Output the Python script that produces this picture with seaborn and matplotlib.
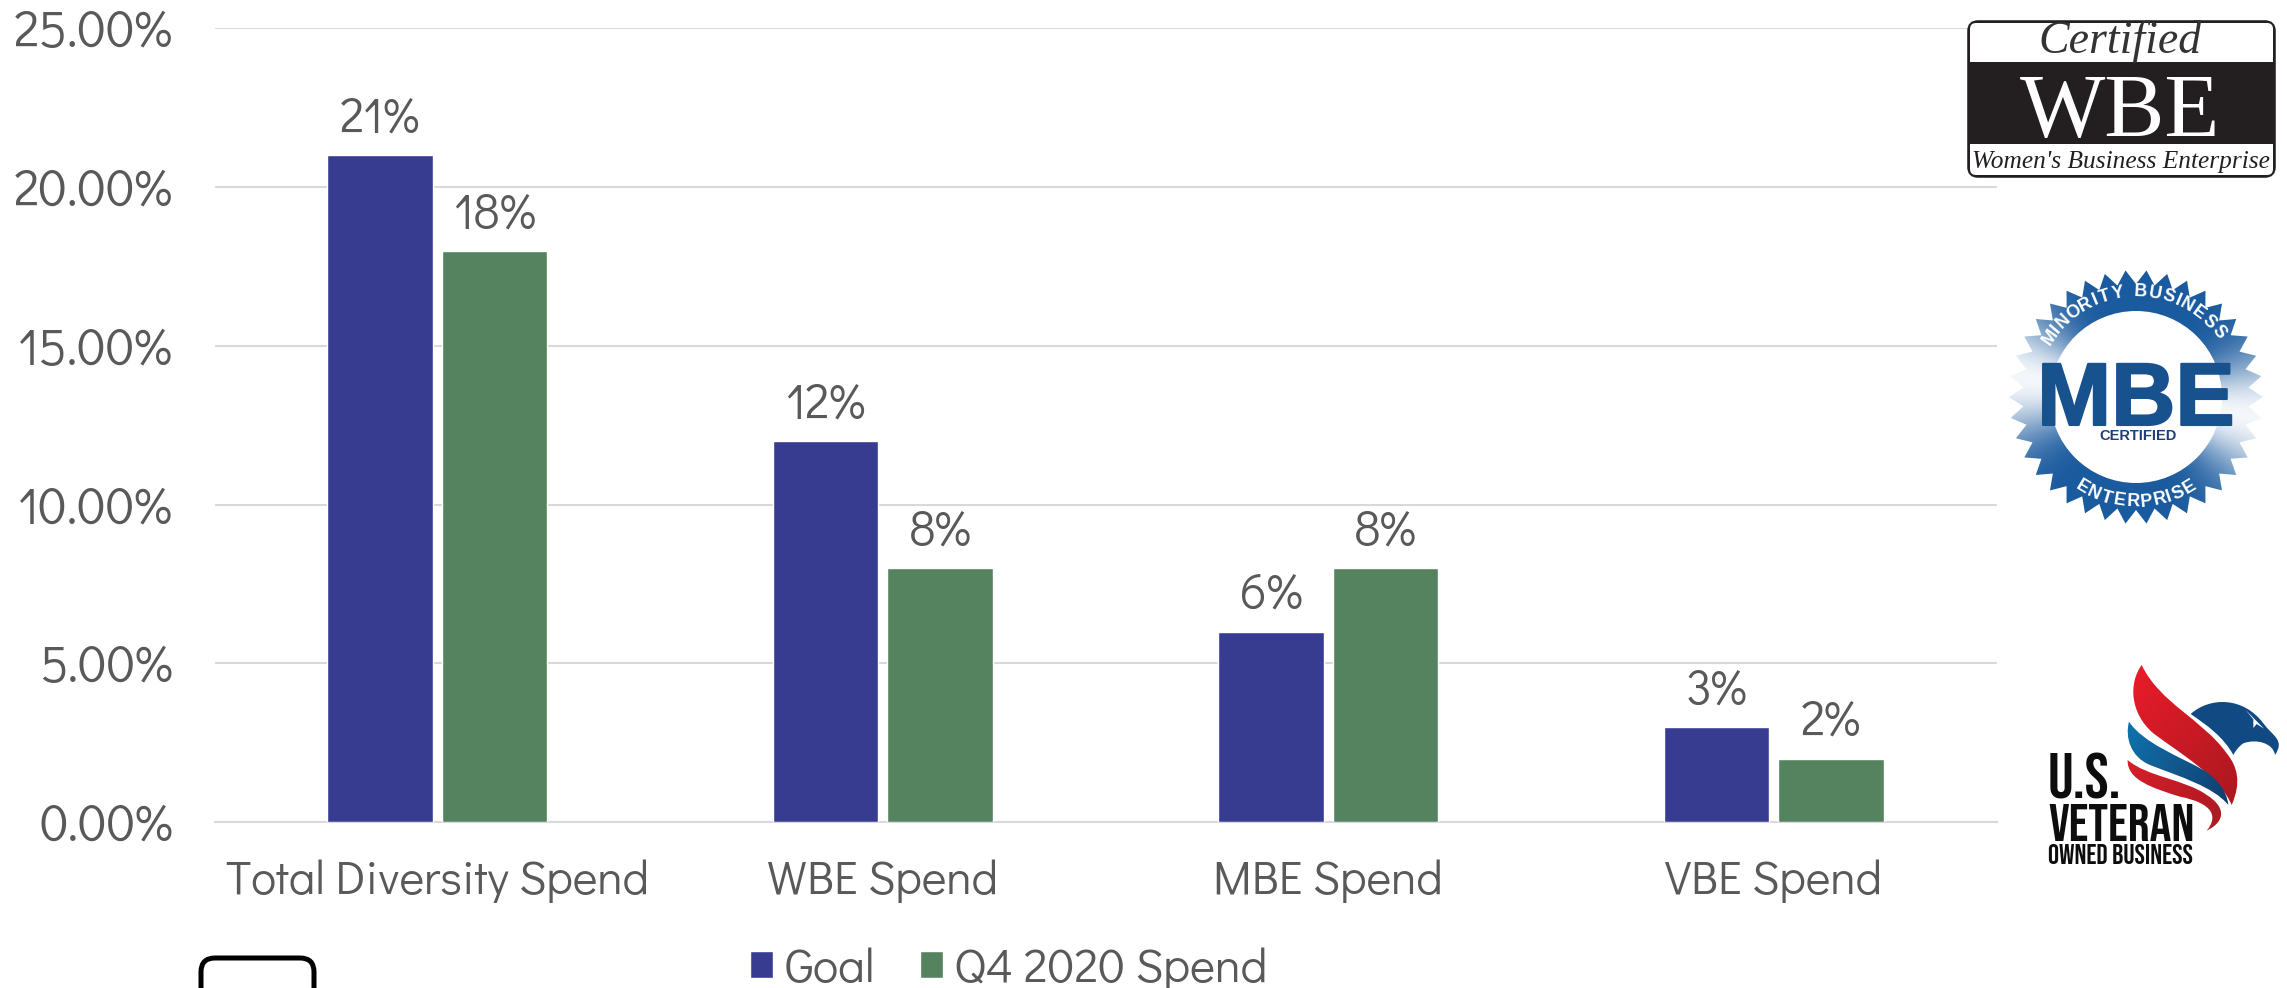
#!/usr/bin/env python3
import numpy as np
import pandas as pd
import matplotlib
matplotlib.use('Agg')
import matplotlib.pyplot as plt
import matplotlib.patheffects as pe
from matplotlib.patches import FancyBboxPatch, Rectangle, Circle, PathPatch, Polygon
from matplotlib.path import Path
import seaborn as sns

categories = ['Total Diversity Spend', 'WBE Spend', 'MBE Spend', 'VBE Spend']
goal = [21, 12, 6, 3]
q4_spend = [18, 8, 8, 2]
series_names = ['Goal', 'Q4 2020 Spend']
y_ticks = [0, 5, 10, 15, 20, 25]

GREY = '#595959'
W, H = 2287, 988

sns.set_theme(style='white')
plt.rcParams['font.family'] = ['Didact Gothic', 'Lato', 'DejaVu Sans']

df = pd.DataFrame({
    'category': categories * 2,
    'series': [series_names[0]] * 4 + [series_names[1]] * 4,
    'value': goal + q4_spend,
})

fig = plt.figure(figsize=(W / 100, H / 100), dpi=100, facecolor='white')
ax = fig.add_axes([214.5 / W, 1 - 822 / H, (1996.5 - 214.5) / W, (822 - 28.5) / H])
sns.barplot(data=df, x='category', y='value', hue='series', order=categories,
            palette=['#383C91', '#56835F'], width=0.515, gap=0.08,
            saturation=1, errorbar=None, ax=ax, zorder=3)

ax.set_xlim(-0.5, 3.5)
ax.set_ylim(0, 25)
ax.set_yticks(y_ticks)
ax.set_yticklabels([f'{v:.2f}%' for v in y_ticks])
ax.set_xlabel('')
ax.set_ylabel('')
ax.grid(axis='y', color='#D9D9D9', lw=1.5, zorder=0)
ax.set_axisbelow(True)
sns.despine(ax=ax, left=True, top=True, right=True)
ax.spines['bottom'].set_color('#D9D9D9')
ax.spines['bottom'].set_linewidth(1.5)
ax.tick_params(axis='y', length=0, pad=30, labelsize=36.7, labelcolor=GREY)
ax.tick_params(axis='x', length=0, pad=27, labelsize=33.8, labelcolor=GREY)

for bars in ax.containers:
    ax.bar_label(bars, fmt='%g%%', padding=9, fontsize=35, color=GREY)

handles, labels = ax.get_legend_handles_labels()
ax.legend_.remove()
fig.legend(handles, labels, loc='center', bbox_to_anchor=(1009 / W, 1 - 969 / H),
           ncol=2, frameon=False, fontsize=34.3, labelcolor=GREY, handlelength=0.47,
           handleheight=0.5, handletextpad=0.25, columnspacing=0.95,
           borderpad=0, borderaxespad=0)

# overlay in pixel coordinates for the logos and the clipped box
ov = fig.add_axes([0, 0, 1, 1], zorder=5)
ov.set_xlim(0, W)
ov.set_ylim(H, 0)
ov.axis('off')
ov.patch.set_alpha(0)


def gradient_fill(patch, extent, c0, c1, angle=0):
    # linear gradient clipped to a patch
    ov.add_patch(patch)
    xx, yy = np.meshgrid(np.linspace(0, 1, 200), np.linspace(0, 1, 200))
    t = xx * np.cos(np.radians(angle)) + yy * np.sin(np.radians(angle))
    t = (t - t.min()) / (t.max() - t.min())
    c0 = np.array(matplotlib.colors.to_rgb(c0))
    c1 = np.array(matplotlib.colors.to_rgb(c1))
    img = c0 + (c1 - c0) * t[..., None]
    im = ov.imshow(img, extent=extent, aspect='auto', zorder=patch.get_zorder())
    im.set_clip_path(patch)
    ov.set_xlim(0, W)
    ov.set_ylim(H, 0)


# WBE logo
ov.add_patch(FancyBboxPatch((1970, 23), 303, 152, boxstyle='round,pad=0,rounding_size=8',
                            fc='#231F20', ec='#231F20', lw=4))
ov.add_patch(FancyBboxPatch((1970, 23), 303, 39, boxstyle='round,pad=0,rounding_size=6',
                            fc='white', ec='none'))
ov.add_patch(Rectangle((1970, 40), 303, 22, fc='white', ec='none'))
ov.add_patch(Rectangle((1970, 144), 303, 15, fc='white', ec='none'))
ov.add_patch(FancyBboxPatch((1970, 148), 303, 27, boxstyle='round,pad=0,rounding_size=6',
                            fc='white', ec='none'))
ov.text(2120, 53, 'Certified', family='Liberation Serif', style='italic', fontsize=33,
        color='#333333', ha='center', va='baseline')
ov.text(2120, 137, 'WBE', family='Liberation Serif', fontsize=65, color='white',
        ha='center', va='baseline')
ov.text(2121, 168, "Women's Business Enterprise", family='Liberation Serif', style='italic',
        fontsize=18.3, color='#231F20', ha='center', va='baseline')

# MBE logo
cx, cy = 2136, 397
n_teeth = 38
theta = np.linspace(0, 2 * np.pi, n_teeth * 2, endpoint=False)
radius = np.where(np.arange(n_teeth * 2) % 2 == 0, 127, 113)
star = Polygon(np.c_[cx + radius * np.cos(theta), cy + radius * np.sin(theta)],
               closed=True, fc='none', ec='none', zorder=2)
ov.add_patch(star)
xx, yy = np.meshgrid(np.linspace(cx - 130, cx + 130, 300), np.linspace(cy - 130, cy + 130, 300))
fade = np.abs(np.cos(np.arctan2(yy - cy, xx - cx) - np.radians(9.5))) ** 7
blue = np.array(matplotlib.colors.to_rgb('#1A5A9E'))
img = blue + (1 - blue) * fade[..., None] * 0.95
im = ov.imshow(img, extent=(cx - 130, cx + 130, cy + 130, cy - 130), aspect='auto', zorder=2)
im.set_clip_path(star)
ov.set_xlim(0, W)
ov.set_ylim(H, 0)
ov.add_patch(Circle((cx, cy), 86, fc='white', ec='none', zorder=3))
ov.text(cx, cy + 28, 'MBE', family='Liberation Sans', weight='bold', fontsize=64, color='#17528F',
        ha='center', va='baseline', zorder=4,
        path_effects=[pe.withStroke(linewidth=1.5, foreground='#17528F')])
ov.text(cx + 2, cy + 39, 'CERTIFIED', family='Liberation Sans', weight='bold', fontsize=10.5,
        color='#1E3F75', ha='center', va='center', zorder=4)


def arc_text(s, r, a0, a1, bottom=False):
    # space the letters by a rough width, I and the blank are narrow
    w = np.array([0.45 if ch == 'I' else 0.6 if ch == ' ' else 1.0 for ch in s])
    pos = np.cumsum(w) - w / 2
    pos = (pos - pos[0]) / (pos[-1] - pos[0])
    for ch, t in zip(s, pos):
        a = a0 + (a1 - a0) * t
        rad = np.radians(a)
        x = cx + r * np.sin(rad)
        y = cy - r * np.cos(rad)
        rot = -a if not bottom else 180 - a
        ov.text(x, y, ch, family='Liberation Sans', weight='bold', fontsize=13, color='white',
                rotation=rot, rotation_mode='anchor', ha='center', va='center', zorder=4)


arc_text('MINORITY BUSINESS', 105, -55, 52)
arc_text('ENTERPRISE', 105, 211, 149, bottom=True)

# eagle logo, zoom crop coordinates mapped to pixels
def eagle(p):
    return [(1980 + x / 3, 640 + y / 3) for x, y in p]


C4 = Path.CURVE4
wing = Path(eagle([(485, 75), (540, 190), (670, 240), (740, 340), (790, 400), (770, 460), (755, 495),
                   (720, 410), (600, 340), (520, 280), (450, 220), (445, 130), (485, 75), (485, 75)]),
            [Path.MOVETO, C4, C4, C4, C4, C4, C4, C4, C4, C4, C4, C4, C4, Path.CLOSEPOLY])
gradient_fill(PathPatch(wing, fc='none', ec='none', zorder=2),
              (2125, 2240, 810, 665), '#ED1C2B', '#A8181F', angle=50)
stripe = Path(eagle([(447, 245), (490, 310), (600, 350), (670, 390), (710, 415), (740, 450), (745, 495),
                     (700, 440), (600, 410), (510, 375), (450, 350), (435, 290), (447, 245), (447, 245)]),
              [Path.MOVETO, C4, C4, C4, C4, C4, C4, C4, C4, C4, C4, C4, C4, Path.CLOSEPOLY])
gradient_fill(PathPatch(stripe, fc='none', ec='none', zorder=2),
              (2125, 2230, 810, 720), '#0F75B0', '#123A6B', angle=30)
low = Path(eagle([(443, 360), (500, 410), (620, 420), (680, 465), (730, 495), (745, 540), (680, 572),
                  (715, 530), (700, 490), (600, 470), (520, 445), (440, 420), (443, 360), (443, 360)]),
           [Path.MOVETO, C4, C4, C4, C4, C4, C4, C4, C4, C4, C4, C4, C4, Path.CLOSEPOLY])
gradient_fill(PathPatch(low, fc='none', ec='none', zorder=2),
              (2125, 2230, 835, 755), '#D8202C', '#A8181F', angle=30)
head = Path(eagle([(632, 222), (690, 170), (790, 170), (850, 250), (880, 290), (915, 300), (885, 345),
                   (880, 310), (830, 295), (790, 310), (775, 320), (765, 335), (760, 345),
                   (730, 290), (680, 255), (632, 222), (632, 222)]),
            [Path.MOVETO, C4, C4, C4, C4, C4, C4, C4, C4, C4, C4, C4, C4, C4, C4, C4, Path.CLOSEPOLY])
ov.add_patch(PathPatch(head, fc='#114A83', ec='none', zorder=2))
ov.add_patch(Polygon(eagle([(797, 210), (852, 266), (830, 252), (820, 264), (820, 238)]), closed=True,
                     fc='white', ec='none', zorder=3))
narrow = ['Bebas Neue', 'Liberation Sans']
ov.text(2048, 798, 'U.S.', family=narrow, fontsize=46, color='#0D0D0D',
        ha='left', va='baseline', zorder=4)
ov.text(2048, 841, 'VETERAN', family=narrow, fontsize=39, color='#0D0D0D',
        ha='left', va='baseline', zorder=4)
ov.text(2048, 864, 'OWNED BUSINESS', family=narrow, fontsize=20, color='#0D0D0D',
        ha='left', va='baseline', zorder=4)

# rounded box cut off by the bottom edge
ov.add_patch(FancyBboxPatch((201, 958), 113, 60, boxstyle='round,pad=0,rounding_size=14',
                            fc='white', ec='black', lw=3.6, clip_on=True))

fig.savefig('out.png', dpi=100, facecolor='white')
